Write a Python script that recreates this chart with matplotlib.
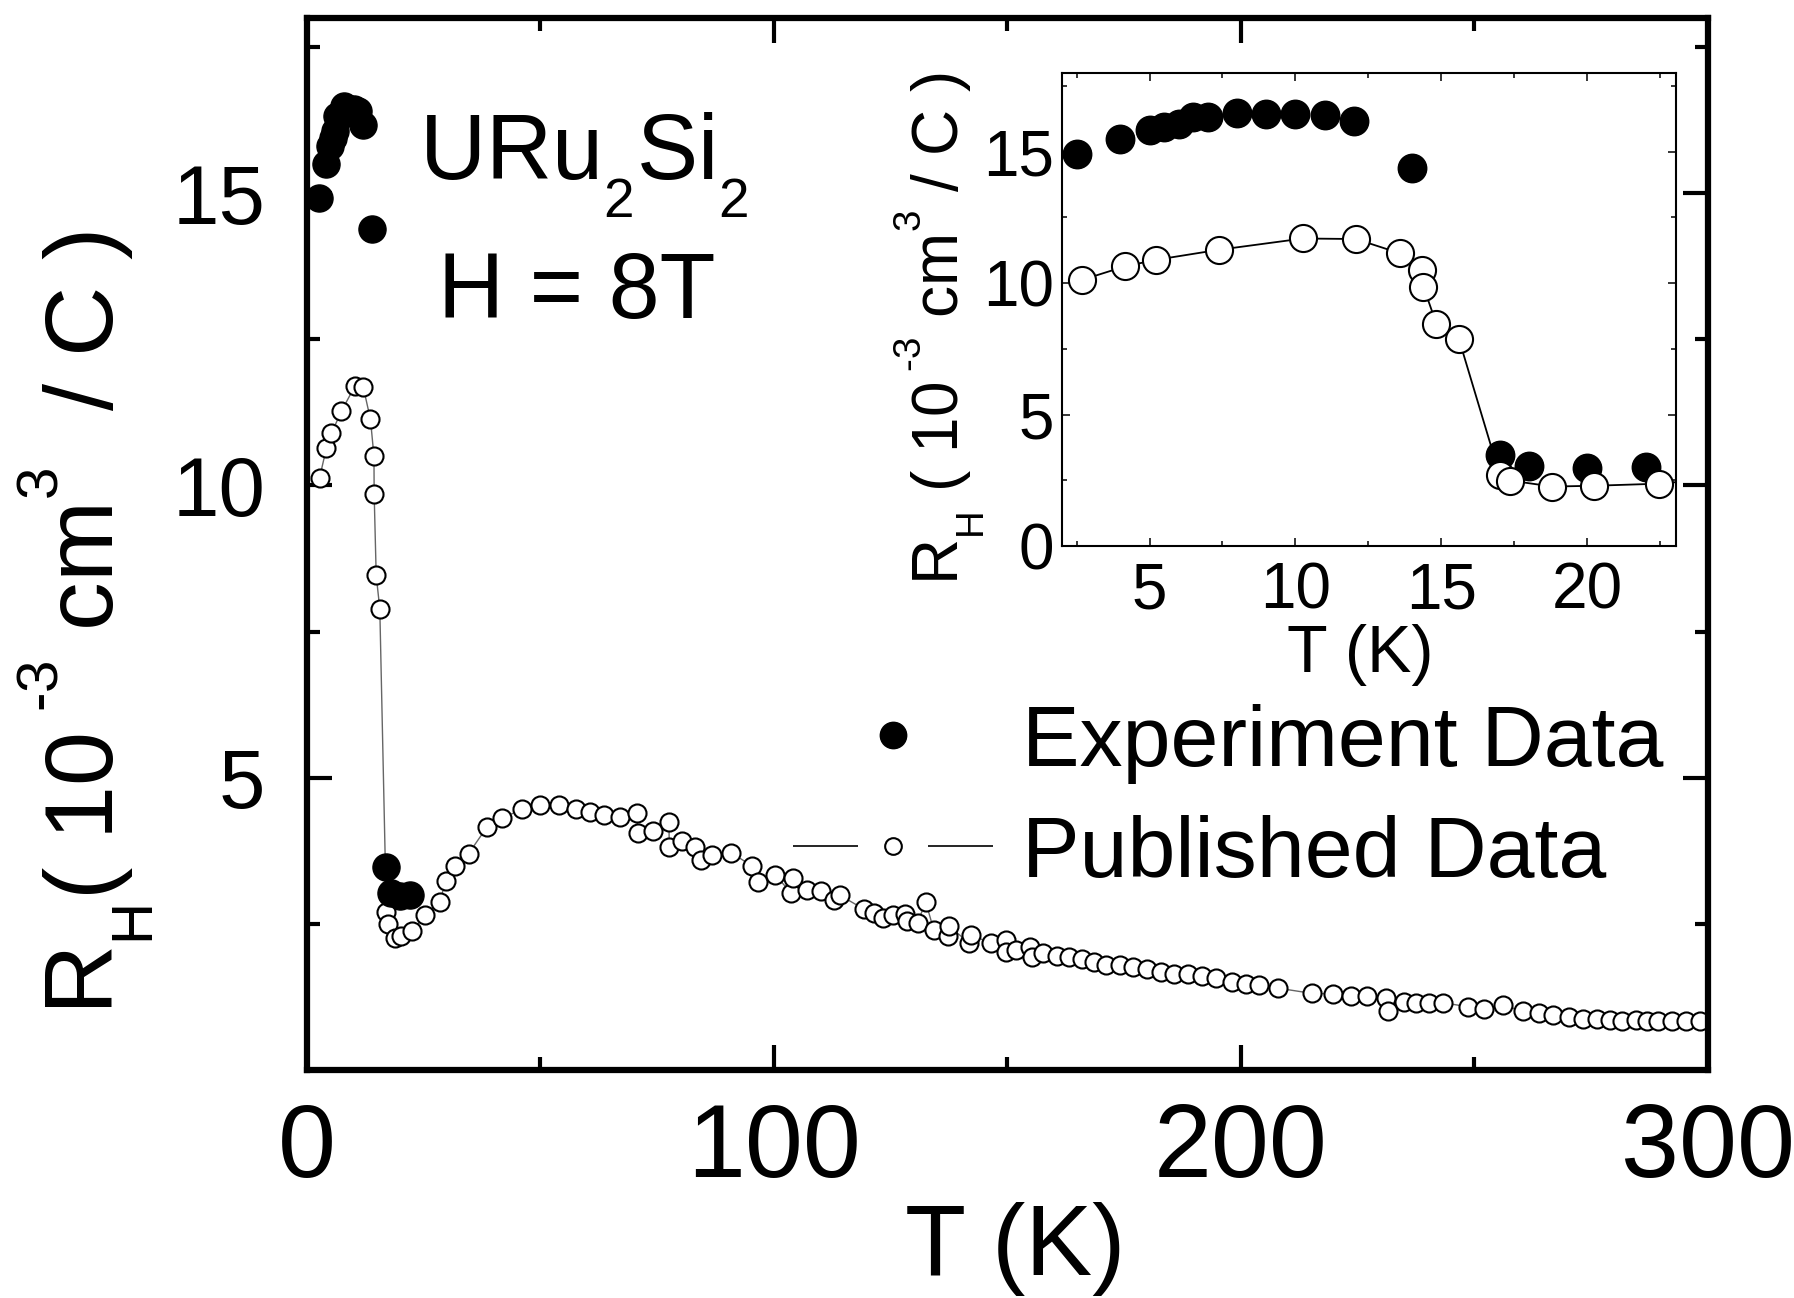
import matplotlib
matplotlib.use('Agg')
import matplotlib.pyplot as plt
from matplotlib.lines import Line2D
from matplotlib.ticker import FixedLocator

# finer control of sub/superscript placement (closer to the original figure)
try:
    import matplotlib._mathtext as _mt
    _mt.SHRINK_FACTOR = 0.6
    _mt.FontConstantsBase.sup1 = 1.08
    _mt.FontConstantsBase.sub1 = 0.78
    _mt.FontConstantsBase.sub2 = 0.78
except Exception:
    pass

plt.rcParams['font.family'] = ['Liberation Sans', 'DejaVu Sans']
plt.rcParams['mathtext.fontset'] = 'custom'
plt.rcParams['mathtext.rm'] = 'Liberation Sans'
plt.rcParams['mathtext.it'] = 'Liberation Sans:italic'
plt.rcParams['mathtext.bf'] = 'Liberation Sans:bold'

# ---------------- data ----------------
exp_T = [2.5, 4.0, 5.0, 5.5, 6.0, 6.5, 7.0, 8.0, 9.0, 10.0, 11.0, 12.0,
         14.0, 17.0, 18.0, 20.0, 22.0]
exp_R = [14.92, 15.50, 15.81, 15.94, 16.07, 16.32, 16.32, 16.49, 16.45,
         16.45, 16.41, 16.16, 14.38, 3.47, 3.03, 2.97, 3.00]

pub_T = [2.7, 4.16, 5.23, 7.37, 10.26, 12.07, 13.6, 14.35, 14.39, 14.83,
         15.6, 17.0, 17.35, 18.81, 20.24, 22.47,
         25.3, 28.5, 29.7, 31.8, 34.6, 38.5, 41.8, 46.1, 49.8, 53.9,
         57.6, 60.7, 63.7, 67.0, 70.7, 70.8, 74.2, 77.5, 77.6, 80.3,
         83.2, 84.4, 86.7, 90.8, 95.3, 96.5, 100.2, 103.7, 104.0, 107.0,
         110.0, 112.9, 114.1, 119.3, 121.5, 123.4, 125.6, 128.0, 128.6,
         130.8, 132.5, 134.2, 137.3, 137.5, 141.7, 142.2, 146.5, 149.6,
         149.8, 151.8, 154.8, 155.3, 157.7, 160.7, 163.1, 165.9, 168.5,
         171.2, 174.2, 176.9, 179.8, 182.8, 185.6, 188.7, 191.6, 194.6,
         198.0, 201.0, 203.9, 207.9, 215.2, 219.7, 223.6, 227.0, 231.0,
         231.5, 234.9, 237.4, 240.3, 243.3, 248.7, 252.1, 256.1, 260.5,
         263.9, 266.9, 270.3, 273.2, 276.2, 279.1, 281.6, 284.5, 287.0,
         289.4, 292.4, 295.3, 298.3]
pub_R = [10.13, 10.64, 10.89, 11.27, 11.70, 11.68, 11.13, 10.50, 9.86, 8.46,
         7.89, 2.71, 2.49, 2.26, 2.29, 2.37,
         2.65, 2.88, 3.24, 3.49, 3.70, 4.15, 4.31, 4.46, 4.53, 4.53,
         4.47, 4.42, 4.36, 4.33, 4.39, 4.06, 4.09, 4.25, 3.82, 3.91,
         3.82, 3.59, 3.68, 3.72, 3.49, 3.21, 3.34, 3.03, 3.28, 3.08,
         3.07, 2.90, 2.99, 2.75, 2.69, 2.60, 2.65, 2.66, 2.54,
         2.52, 2.88, 2.40, 2.29, 2.46, 2.18, 2.31, 2.17, 2.22,
         2.02, 2.05, 2.11, 1.94, 2.00, 1.95, 1.94, 1.89, 1.85,
         1.80, 1.80, 1.76, 1.72, 1.68, 1.64, 1.64, 1.60, 1.57,
         1.51, 1.47, 1.45, 1.40, 1.31, 1.30, 1.27, 1.27, 1.23,
         1.00, 1.17, 1.15, 1.15, 1.15, 1.08, 1.04, 1.11, 1.00,
         0.97, 0.94, 0.90, 0.88, 0.87, 0.86, 0.84, 0.86, 0.84,
         0.83, 0.83, 0.83, 0.84]

main_xticks = [0, 100, 200, 300]
main_xminor = [50, 150, 250]
main_yticks = [5, 10, 15]
main_yminor = [2.5, 7.5, 12.5, 17.5]
ins_xticks = [5, 10, 15, 20]
ins_xminor = [2.5, 7.5, 12.5, 17.5, 22.5]
ins_yticks = [0, 5, 10, 15]
ins_yminor = [2.5, 7.5, 12.5, 17.5]

HY = '\u2010'  # hyphen used in the exponent "-3"
ylab_main = (r'R$_\mathregular{H}$( 10$^{\hspace{0.4}\mathregular{' + HY +
             r'3}}$ cm$^\mathregular{3}$  / C )')
ylab_ins = (r'R$_\mathregular{H}$ ( 10$^{\hspace{0.3}\mathregular{' + HY +
            r'3}}$ cm$^\mathregular{3}$ / C )')

# ---------------- figure ----------------
fig = plt.figure(figsize=(17.94, 12.98), dpi=100)
ax = fig.add_axes([0.1711, 0.1757, 0.7809, 0.8105])

ax.plot(pub_T, pub_R, '-', color='0.4', lw=1.0, marker='o', ms=13,
        mfc='white', mec='black', mew=1.5, zorder=2)
ax.plot(exp_T, exp_R, 'o', color='black', ms=19.5, zorder=3)

ax.set_xlim(0, 300)
ax.set_ylim(0, 18)
ax.xaxis.set_major_locator(FixedLocator(main_xticks))
ax.xaxis.set_minor_locator(FixedLocator(main_xminor))
ax.yaxis.set_major_locator(FixedLocator(main_yticks))
ax.yaxis.set_minor_locator(FixedLocator(main_yminor))
ax.set_xticklabels([str(v) for v in main_xticks])
ax.set_yticklabels([str(v) for v in main_yticks])
ax.tick_params(which='both', direction='in', top=True, right=True, color='black')
ax.tick_params(which='major', length=18, width=3)
ax.tick_params(which='minor', length=9.5, width=3)
ax.tick_params(axis='y', labelsize=60, pad=30)
ax.tick_params(axis='x', labelsize=75, pad=23)
for s in ax.spines.values():
    s.set_linewidth(4.5)

fig.text(0.0635, 0.52, ylab_main, rotation=90, rotation_mode='anchor',
         ha='center', va='baseline', fontsize=70)
fig.text(0.566, 0.0177, 'T (K)', ha='center', va='baseline', fontsize=72)

fig.text(0.325, 0.8613, r'URu$_\mathregular{2}$Si$_\mathregular{2}$',
         ha='center', va='baseline', fontsize=66)
fig.text(0.3216, 0.755, 'H = 8T', ha='center', va='baseline', fontsize=66)

h_exp = Line2D([], [], ls='none', marker='o', color='black', ms=19)
h_pub = Line2D([], [], ls=(0, (39, 42)), lw=1.2, color='black', marker='o',
               ms=12, mfc='white', mec='black', mew=1.5)
ax.legend([h_exp, h_pub], ['Experiment Data', 'Published Data'],
          loc='center left', bbox_to_anchor=(793 / 1794, 1 - 799 / 1298),
          bbox_transform=fig.transFigure, frameon=False, fontsize=62,
          handlelength=2.32, handletextpad=0.34, borderpad=0,
          borderaxespad=0, labelspacing=0.36, numpoints=1)

# ---------------- inset ----------------
ins = fig.add_axes([0.5920, 0.5794, 0.3423, 0.3644])
ins.set_facecolor('white')
ins.plot(exp_T, exp_R, 'o', color='black', ms=20.5, zorder=2)
ins.plot(pub_T, pub_R, '-', color='black', lw=1.3, marker='o', ms=19.5,
         mfc='white', mec='black', mew=1.5, zorder=3)
ins.set_xlim(2, 23.05)
ins.set_ylim(0, 18)
ins.xaxis.set_major_locator(FixedLocator(ins_xticks))
ins.xaxis.set_minor_locator(FixedLocator(ins_xminor))
ins.yaxis.set_major_locator(FixedLocator(ins_yticks))
ins.yaxis.set_minor_locator(FixedLocator(ins_yminor))
ins.set_xticklabels([str(v) for v in ins_xticks])
ins.set_yticklabels([str(v) for v in ins_yticks])
ins.tick_params(which='both', direction='in', top=True, right=True)
ins.tick_params(which='major', length=6, width=1.1)
ins.tick_params(which='minor', length=3.5, width=1.1)
ins.tick_params(axis='x', labelsize=46, pad=11)
ins.tick_params(axis='y', labelsize=46, pad=6)
for s in ins.spines.values():
    s.set_linewidth(1.5)

fig.text(0.5345, 0.747, ylab_ins, rotation=90, rotation_mode='anchor',
         ha='center', va='baseline', fontsize=46)
fig.text(0.758, 0.4823, 'T (K)', ha='center', va='baseline', fontsize=48)

fig.savefig('out.png', dpi=100, facecolor='white')
